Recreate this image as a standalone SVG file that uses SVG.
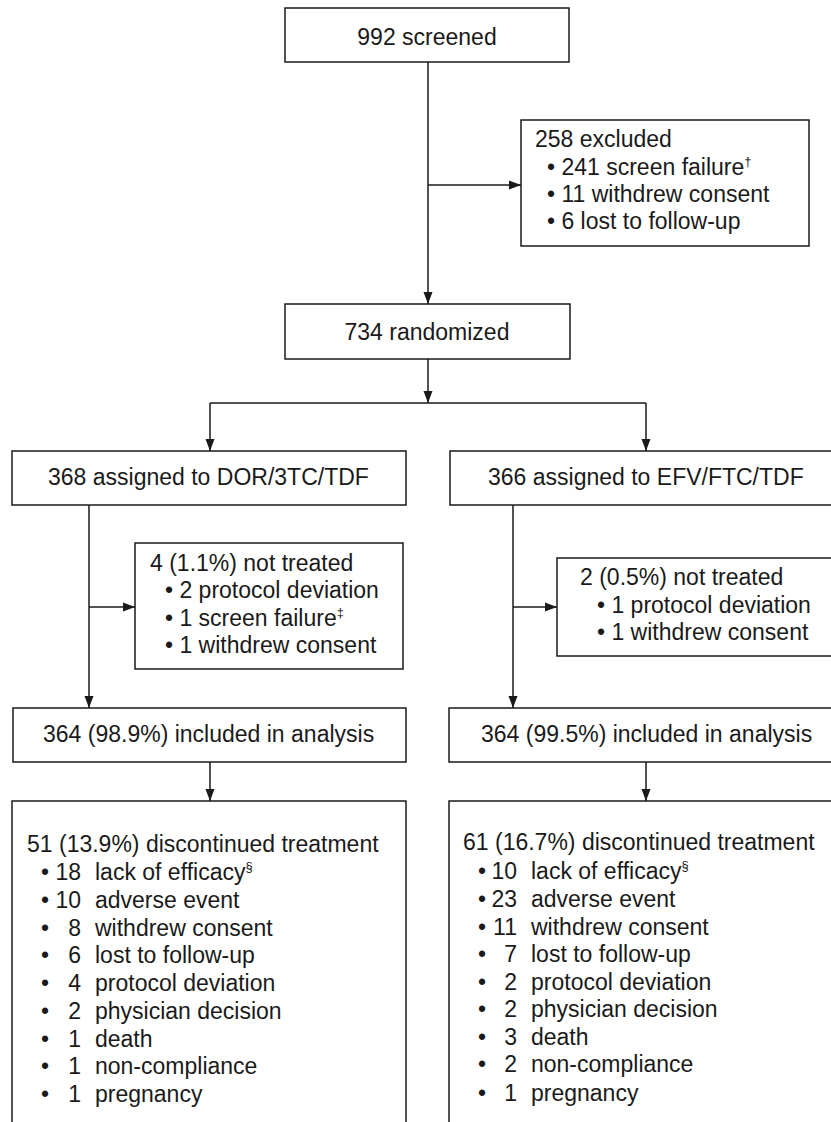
<svg xmlns="http://www.w3.org/2000/svg" width="831" height="1122" viewBox="0 0 831 1122">
<style>
.box{fill:#fff;stroke:#1a1a1a;stroke-width:1.5}
.t{font-family:"Liberation Sans",Arial,sans-serif;font-size:23px;fill:#1a1a1a}
.c{text-anchor:middle}
.r{text-anchor:end}
.sup{font-size:13px}
.ln{fill:none;stroke:#1a1a1a;stroke-width:1.5}
</style>
<defs>
<marker id="ah" markerUnits="userSpaceOnUse" markerWidth="12" markerHeight="12" viewBox="0 0 12 12" refX="12" refY="6" orient="auto">
<path d="M0,1.5 L12,6 L0,10.5 Z" fill="#1a1a1a"/>
</marker>
</defs>
<rect width="831" height="1122" fill="#fff"/>
<g id="connectors">
<path class="ln" d="M428,62 V304" marker-end="url(#ah)"/>
<path class="ln" d="M428,185 H521" marker-end="url(#ah)"/>
<path class="ln" d="M428,359 V403" marker-end="url(#ah)"/>
<path class="ln" d="M210,403 H646"/>
<path class="ln" d="M210,403 V451" marker-end="url(#ah)"/>
<path class="ln" d="M646,403 V451" marker-end="url(#ah)"/>
<path class="ln" d="M89,505 V708" marker-end="url(#ah)"/>
<path class="ln" d="M89,607 H135" marker-end="url(#ah)"/>
<path class="ln" d="M513,505 V708" marker-end="url(#ah)"/>
<path class="ln" d="M513,607 H557" marker-end="url(#ah)"/>
<path class="ln" d="M210,762 V801" marker-end="url(#ah)"/>
<path class="ln" d="M646,762 V801" marker-end="url(#ah)"/>
</g>
<g id="screened">
<rect class="box" x="285" y="8" width="284" height="54"/>
<text class="t c" x="427" y="45">992 screened</text>
</g>
<g id="excluded">
<rect class="box" x="521" y="120" width="288" height="126"/>
<text class="t" x="535" y="147">258 excluded</text>
<text class="t" x="547" y="175">• 241 screen failure<tspan class="sup" dy="-9">†</tspan></text>
<text class="t" x="547" y="202">• 11 withdrew consent</text>
<text class="t" x="547" y="229">• 6 lost to follow-up</text>
</g>
<g id="randomized">
<rect class="box" x="285" y="304" width="285" height="55"/>
<text class="t c" x="427" y="340">734 randomized</text>
</g>
<g id="assigned-dor">
<rect class="box" x="12" y="451" width="394" height="54"/>
<text class="t" x="48" y="485">368 assigned to DOR/3TC/TDF</text>
</g>
<g id="assigned-efv">
<rect class="box" x="450" y="451" width="400" height="54"/>
<text class="t" x="488" y="485">366 assigned to EFV/FTC/TDF</text>
</g>
<g id="nottreated-dor">
<rect class="box" x="135" y="543" width="268" height="126"/>
<text class="t" x="150" y="571">4 (1.1%) not treated</text>
<text class="t" x="165" y="598">• 2 protocol deviation</text>
<text class="t" x="165" y="626">• 1 screen failure<tspan class="sup" dy="-9">‡</tspan></text>
<text class="t" x="165" y="653">• 1 withdrew consent</text>
</g>
<g id="nottreated-efv">
<rect class="box" x="557" y="558" width="290" height="98"/>
<text class="t" x="580" y="585">2 (0.5%) not treated</text>
<text class="t" x="597" y="613">• 1 protocol deviation</text>
<text class="t" x="597" y="640">• 1 withdrew consent</text>
</g>
<g id="analysis-dor">
<rect class="box" x="13" y="708" width="393" height="54"/>
<text class="t" x="43" y="742">364 (98.9%) included in analysis</text>
</g>
<g id="analysis-efv">
<rect class="box" x="449" y="708" width="400" height="54"/>
<text class="t" x="481" y="742">364 (99.5%) included in analysis</text>
</g>
<g id="discontinued-dor">
<rect class="box" x="12" y="801" width="394" height="340"/>
<text class="t" x="27" y="852">51 (13.9%) discontinued treatment</text>
<g class="t">
<text x="41" y="880">•</text><text class="r" x="81" y="880">18</text><text x="95" y="880">lack of efficacy<tspan class="sup" dy="-9">§</tspan></text>
<text x="41" y="908">•</text><text class="r" x="81" y="908">10</text><text x="95" y="908">adverse event</text>
<text x="41" y="936">•</text><text class="r" x="81" y="936">8</text><text x="95" y="936">withdrew consent</text>
<text x="41" y="963">•</text><text class="r" x="81" y="963">6</text><text x="95" y="963">lost to follow-up</text>
<text x="41" y="991">•</text><text class="r" x="81" y="991">4</text><text x="95" y="991">protocol deviation</text>
<text x="41" y="1019">•</text><text class="r" x="81" y="1019">2</text><text x="95" y="1019">physician decision</text>
<text x="41" y="1047">•</text><text class="r" x="81" y="1047">1</text><text x="95" y="1047">death</text>
<text x="41" y="1074">•</text><text class="r" x="81" y="1074">1</text><text x="95" y="1074">non-compliance</text>
<text x="41" y="1102">•</text><text class="r" x="81" y="1102">1</text><text x="95" y="1102">pregnancy</text>
</g>
</g>
<g id="discontinued-efv">
<rect class="box" x="449" y="801" width="400" height="340"/>
<text class="t" x="463" y="850">61 (16.7%) discontinued treatment</text>
<g class="t">
<text x="478" y="879">•</text><text class="r" x="517" y="879">10</text><text x="531" y="879">lack of efficacy<tspan class="sup" dy="-9">§</tspan></text>
<text x="478" y="907">•</text><text class="r" x="517" y="907">23</text><text x="531" y="907">adverse event</text>
<text x="478" y="935">•</text><text class="r" x="517" y="935">11</text><text x="531" y="935">withdrew consent</text>
<text x="478" y="962">•</text><text class="r" x="517" y="962">7</text><text x="531" y="962">lost to follow-up</text>
<text x="478" y="990">•</text><text class="r" x="517" y="990">2</text><text x="531" y="990">protocol deviation</text>
<text x="478" y="1017">•</text><text class="r" x="517" y="1017">2</text><text x="531" y="1017">physician decision</text>
<text x="478" y="1045">•</text><text class="r" x="517" y="1045">3</text><text x="531" y="1045">death</text>
<text x="478" y="1072">•</text><text class="r" x="517" y="1072">2</text><text x="531" y="1072">non-compliance</text>
<text x="478" y="1101">•</text><text class="r" x="517" y="1101">1</text><text x="531" y="1101">pregnancy</text>
</g>
</g>
</svg>
